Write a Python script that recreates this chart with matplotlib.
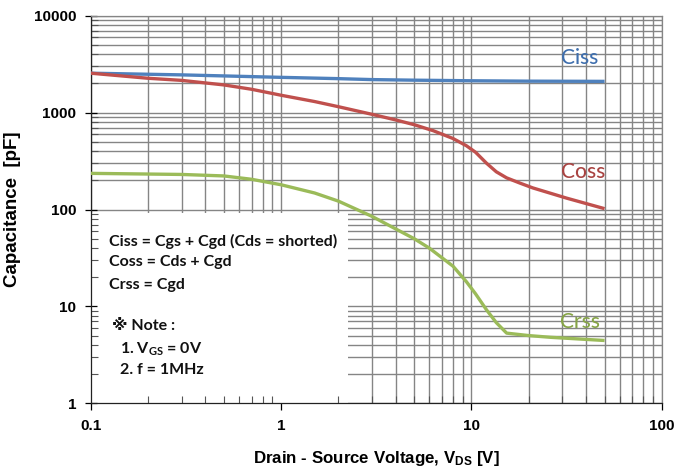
import numpy as np
import matplotlib
matplotlib.use('Agg')
import matplotlib.pyplot as plt
from matplotlib.patches import Rectangle
from matplotlib.ticker import LogLocator, NullFormatter, FixedLocator, FixedFormatter

# data
v_ciss = [0.1, 0.3, 0.5, 1, 2, 3, 5, 10, 20, 50]
ciss = [2550, 2450, 2390, 2310, 2240, 2190, 2160, 2130, 2110, 2100]

v_coss = [0.1, 0.2, 0.3, 0.5, 0.7, 1, 1.5, 2, 3, 4, 5, 6.3, 8, 9.4, 10.5, 12, 13.5, 15.3, 18, 21, 31.6, 50]
coss = [2550, 2260, 2150, 1930, 1740, 1510, 1300, 1150, 960, 840, 750, 650, 540, 455, 390, 300, 245, 212, 187, 167, 131, 102]

v_crss = [0.1, 0.3, 0.5, 0.7, 1, 1.5, 2, 3, 4, 5, 6, 8, 9.4, 10.5, 12, 13.5, 15.3, 20, 26, 50]
crss = [236, 230, 222, 205, 180, 148, 122, 85, 63, 50, 40, 26, 18, 13.5, 9.2, 6.8, 5.3, 5.0, 4.8, 4.45]

x_ticks = [0.1, 1, 10, 100]
x_labels = ['0.1', '1', '10', '100']
y_ticks = [1, 10, 100, 1000, 10000]
y_labels = ['1', '10', '100', '1000', '10000']

c_blue = '#4F81BD'
c_red = '#C0504D'
c_green = '#9BBB59'
grid_c = '#858585'

fig = plt.figure(figsize=(6.74, 4.68), dpi=100)
pos = [0.1346, 0.1382, 0.8474, 0.8283]

# grid in its own axes underneath
gax = fig.add_axes(pos)
gax.set_xscale('log')
gax.set_yscale('log')
gax.set_xlim(0.1, 100)
gax.set_ylim(1, 10000)
gax.xaxis.set_minor_locator(LogLocator(base=10, subs=np.arange(2, 10)))
gax.yaxis.set_minor_locator(LogLocator(base=10, subs=np.arange(2, 10)))
gax.grid(True, which='both', color=grid_c, lw=1.0)
gax.tick_params(which='both', length=0, labelbottom=False, labelleft=False)
for s in gax.spines.values():
    s.set_visible(False)

ax = fig.add_axes(pos)
ax.patch.set_alpha(0)
ax.set_xscale('log')
ax.set_yscale('log')
ax.set_xlim(0.1, 100)
ax.set_ylim(1, 10000)

# white note box covering the grid
ax.add_patch(Rectangle((0, 0), 0.45, 0.491, transform=ax.transAxes,
                       facecolor='white', edgecolor='none', zorder=1))

ax.plot(v_ciss, ciss, color=c_blue, lw=2.4, zorder=3, solid_capstyle='butt')
ax.plot(v_coss, coss, color=c_red, lw=2.4, zorder=3, solid_capstyle='butt')
ax.plot(v_crss, crss, color=c_green, lw=2.4, zorder=3, solid_capstyle='butt')

ax.xaxis.set_major_locator(FixedLocator(x_ticks))
ax.xaxis.set_major_formatter(FixedFormatter(x_labels))
ax.yaxis.set_major_locator(FixedLocator(y_ticks))
ax.yaxis.set_major_formatter(FixedFormatter(y_labels))
ax.xaxis.set_minor_locator(LogLocator(base=10, subs=np.arange(2, 10)))
ax.yaxis.set_minor_locator(LogLocator(base=10, subs=np.arange(2, 10)))
ax.xaxis.set_minor_formatter(NullFormatter())
ax.yaxis.set_minor_formatter(NullFormatter())

tick_font = {'family': 'Liberation Sans', 'weight': 'bold', 'size': 11}
ax.tick_params(axis='x', which='major', direction='out', length=5, width=0.9, pad=6)
ax.tick_params(axis='x', which='minor', direction='in', length=5, width=0.8, color='#555555')
ax.tick_params(axis='y', which='major', direction='inout', length=9, width=0.9, pad=6)
ax.tick_params(axis='y', which='minor', direction='in', length=5, width=0.8, color='#555555')
for lab in ax.get_xticklabels() + ax.get_yticklabels():
    lab.set_fontproperties(matplotlib.font_manager.FontProperties(**tick_font))

ax.spines['left'].set_color('#222222')
ax.spines['bottom'].set_color('#222222')
ax.spines['top'].set_color(grid_c)
ax.spines['right'].set_color(grid_c)
for s in ax.spines.values():
    s.set_linewidth(0.9)

ax.set_xlabel(r'Drain - Source Voltage, $\mathregular{V_{DS}}$ [V]', labelpad=12,
              family='Liberation Sans', weight='bold', size=12.2)
ax.set_ylabel('Capacitance  [pF]', labelpad=9,
              family='Liberation Sans', weight='bold', size=13.5)

# curve labels
cl = dict(family='Lato', weight='medium', size=15, ha='center', va='center', zorder=4)
ax.text(0.856, 0.89, 'Ciss', color='#3F6FAE', transform=ax.transAxes, **cl)
ax.text(0.862, 0.598, 'Coss', color='#A94442', transform=ax.transAxes, **cl)
ax.text(0.857, 0.21, 'Crss', color='#86A446', transform=ax.transAxes, **cl)

# note text
nf = dict(family=['Lato', 'DejaVu Sans'], weight='bold', size=11.5, color='#111111',
          transform=ax.transAxes, va='center', ha='left', zorder=4)
ax.text(0.0315, 0.4175, 'Ciss = Cgs + Cgd (Cds = shorted)', **nf)
ax.text(0.0315, 0.3633, 'Coss = Cds + Cgd', **nf)
ax.text(0.0315, 0.3057, 'Crss = Cgd', **nf)
ax.text(0.038, 0.1983, '※ Note :', **nf)
ax.text(0.0505, 0.1383, r'1. $\mathregular{V_{GS}}$ = 0V', **nf)
ax.text(0.0505, 0.0850, '2. f = 1MHz', **nf)

fig.savefig('out.png', dpi=100)
